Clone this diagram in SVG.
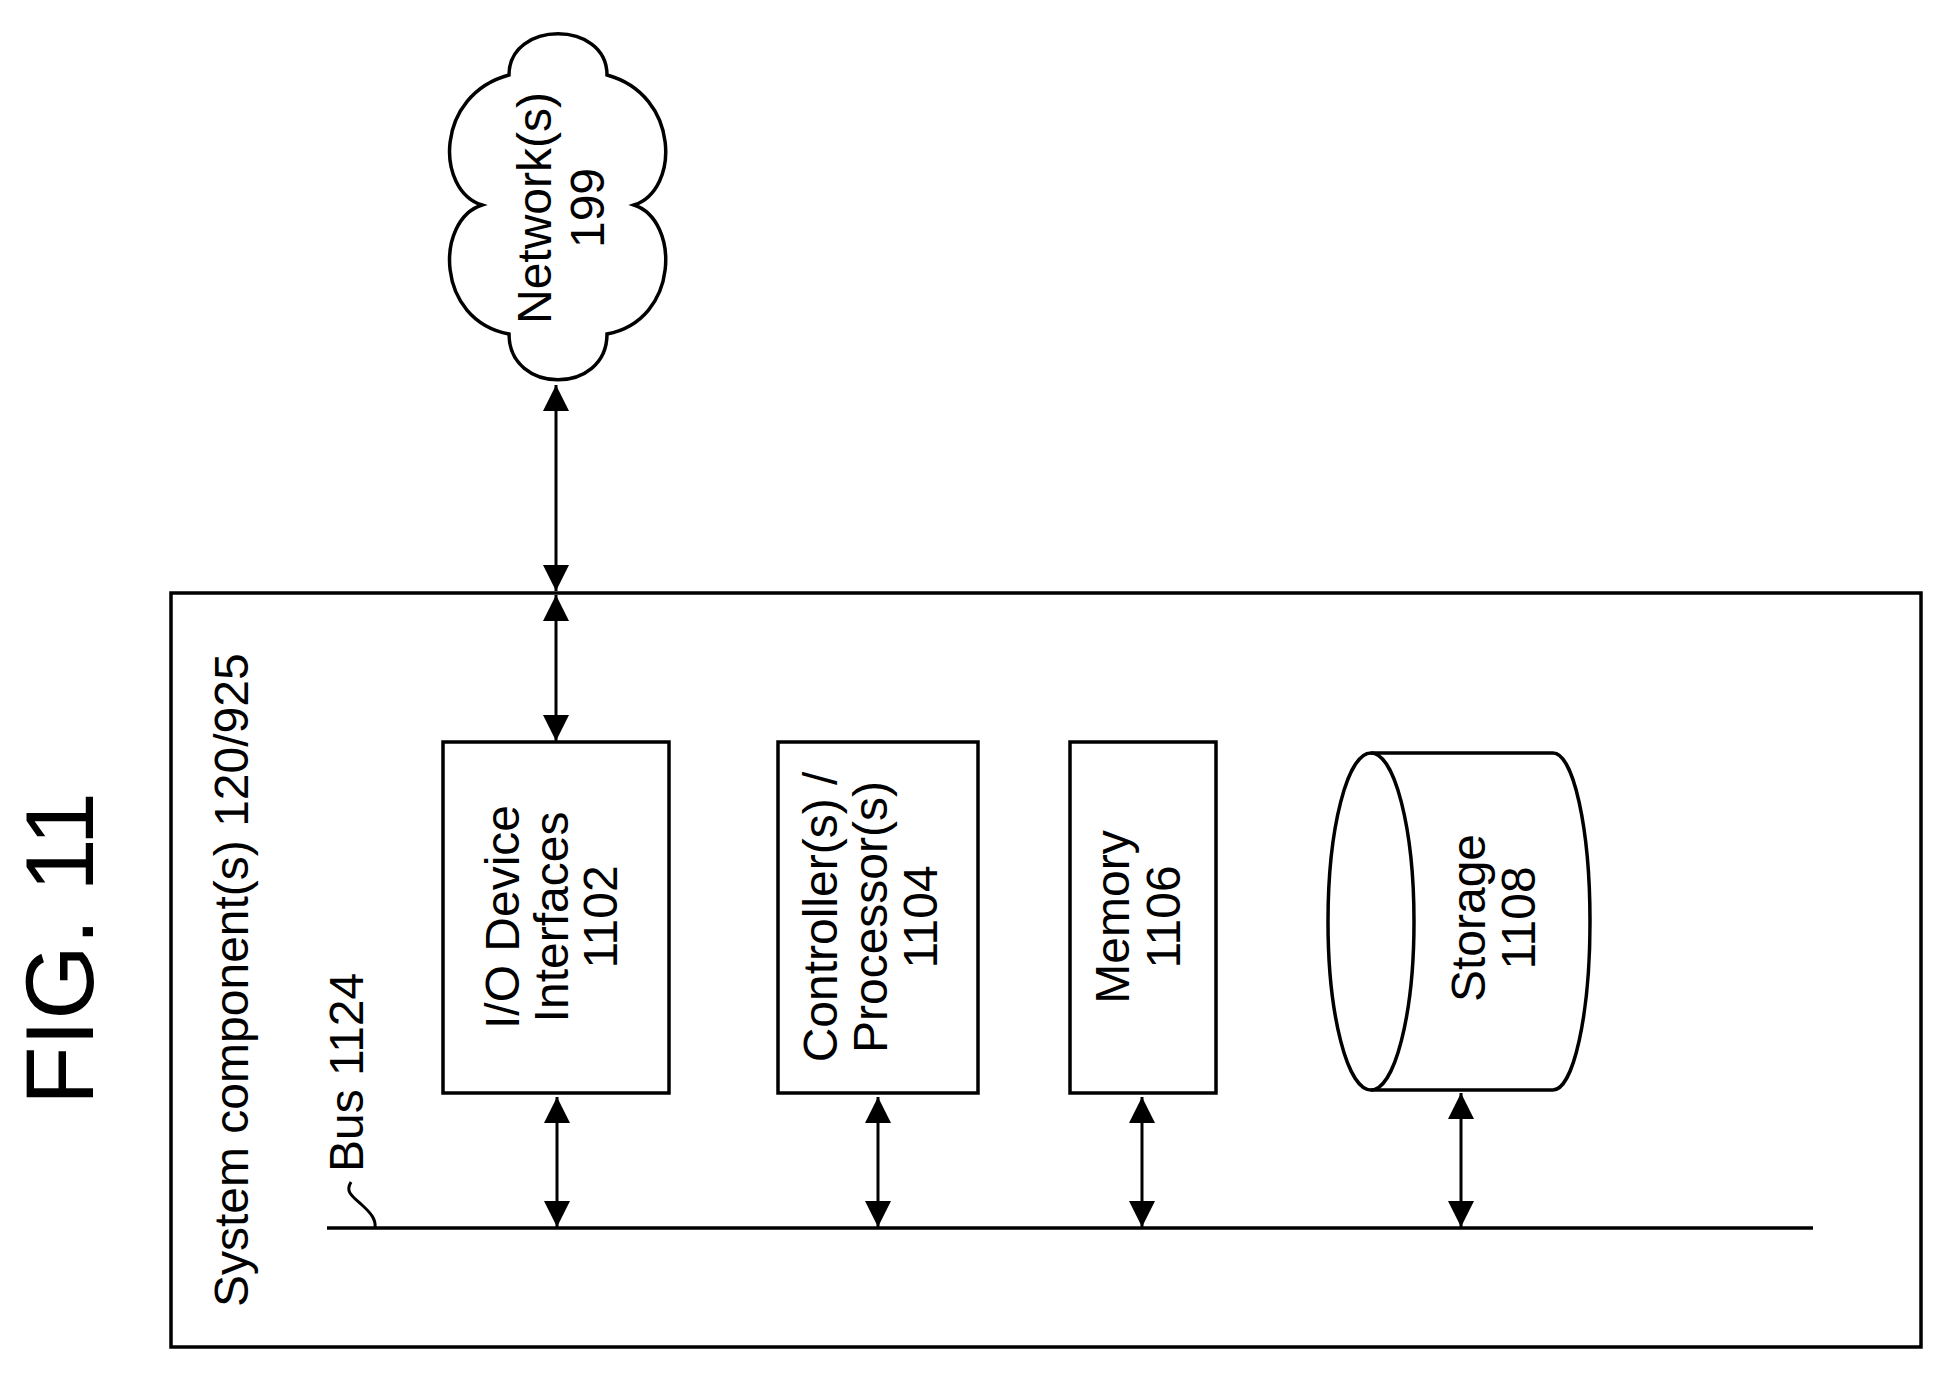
<svg xmlns="http://www.w3.org/2000/svg" width="1943" height="1373" viewBox="0 0 1943 1373">
<style>
.s{fill:none;stroke:#000;stroke-width:3.5}
.c{fill:none;stroke:#000;stroke-width:3;marker-start:url(#ah);marker-end:url(#ah)}
text{font-family:"Liberation Sans",Arial,sans-serif;font-size:48px;fill:#000}
.m{text-anchor:middle}
</style>
<defs>
<marker id="ah" viewBox="0 0 26 26" refX="26" refY="13" markerWidth="26" markerHeight="26" markerUnits="userSpaceOnUse" orient="auto-start-reverse">
<path d="M0,0 L26,13 L0,26 Z" fill="#000"/>
</marker>
</defs>
<rect width="1943" height="1373" fill="#fff"/>
<text transform="translate(93,1105) rotate(-90)" style="font-size:96px">FIG. 11</text>
<g id="system">
<rect class="s" x="171" y="593" width="1750" height="754"/>
<text transform="translate(248,1307) rotate(-90)">System component(s) 120/925</text>
</g>
<g id="network">
<path class="s" d="M509,75 C509,20 607,20 607,75 C680,95 680,190 634,205 C680,220 680,320 607,334 C607,395 509,395 509,334 C435,320 435,220 482,205 C435,190 435,95 509,75 Z"/>
<text class="m" transform="translate(551,208) rotate(-90)">Network(s)<tspan x="0" dy="53">199</tspan></text>
</g>
<g id="io">
<rect class="s" x="443" y="742" width="226" height="351"/>
<text class="m" transform="translate(519,917) rotate(-90)">I/O Device<tspan x="0" dy="49">Interfaces</tspan><tspan x="0" dy="49">1102</tspan></text>
</g>
<g id="controller">
<rect class="s" x="778" y="742" width="200" height="351"/>
<text class="m" transform="translate(837,917) rotate(-90)">Controller(s) /<tspan x="0" dy="50">Processor(s)</tspan><tspan x="0" dy="50">1104</tspan></text>
</g>
<g id="memory">
<rect class="s" x="1070" y="742" width="146" height="351"/>
<text class="m" transform="translate(1129,917) rotate(-90)">Memory<tspan x="0" dy="51">1106</tspan></text>
</g>
<g id="storage">
<path class="s" d="M1371,753 L1553,753 A37,168.5 0 0 1 1553,1090 L1371,1090"/>
<ellipse class="s" cx="1371" cy="921.5" rx="43" ry="168.5"/>
<text class="m" transform="translate(1485,918) rotate(-90)">Storage<tspan x="0" dy="50">1108</tspan></text>
</g>
<g id="bus">
<line x1="327" y1="1228" x2="1813" y2="1228" stroke="#000" stroke-width="3.5"/>
<path d="M351,1182 C345,1192 352,1196 362,1205 C372,1214 376,1220 375,1228" fill="none" stroke="#000" stroke-width="3"/>
<text transform="translate(363,1172) rotate(-90)">Bus 1124</text>
</g>
<g id="connectors">
<line class="c" x1="556" y1="385" x2="556" y2="591"/>
<line class="c" x1="556" y1="595" x2="556" y2="741"/>
<line class="c" x1="557" y1="1097" x2="557" y2="1227"/>
<line class="c" x1="878" y1="1097" x2="878" y2="1227"/>
<line class="c" x1="1142" y1="1097" x2="1142" y2="1227"/>
<line class="c" x1="1461" y1="1093" x2="1461" y2="1227"/>
</g>
</svg>
